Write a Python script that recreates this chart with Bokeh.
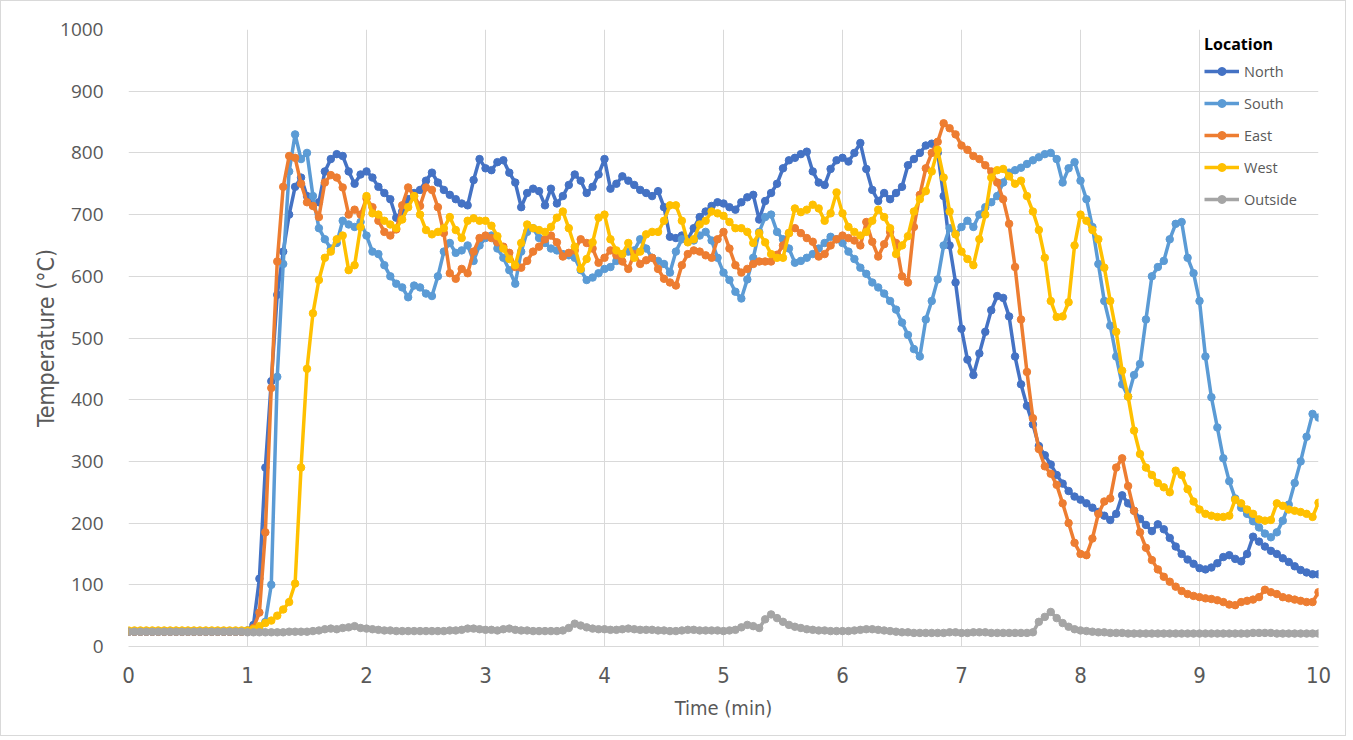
from bokeh.plotting import figure
from bokeh.models import Range1d, Legend, LegendItem, FixedTicker
from bokeh.embed import file_html
from bokeh.resources import INLINE

# sampling grid (min), 3-second steps
time_min = [round(i * 0.05, 2) for i in range(201)]

north = [
    24, 24, 24, 24, 24, 24, 24, 24, 24, 24, 24, 24, 24, 24, 24, 24, 24, 24, 24, 24,
    26, 35, 110, 290, 430, 570, 640, 700, 745, 760, 730, 715, 720, 770, 790, 798, 795, 770, 750, 765,
    770, 760, 745, 735, 725, 695, 705, 725, 735, 740, 755, 768, 752, 740, 732, 725, 718, 715, 756, 790,
    775, 772, 785, 788, 768, 752, 712, 735, 742, 738, 715, 742, 718, 730, 748, 765, 755, 735, 745, 765,
    790, 742, 750, 762, 755, 748, 740, 735, 730, 738, 712, 664, 662, 666, 660, 678, 696, 705, 714, 720,
    718, 712, 708, 720, 728, 732, 692, 722, 735, 750, 775, 788, 792, 798, 802, 770, 752, 748, 774, 788,
    792, 786, 800, 816, 774, 740, 722, 735, 725, 735, 745, 780, 790, 800, 812, 815, 800, 730, 650, 590,
    515, 465, 440, 475, 510, 545, 568, 565, 535, 470, 425, 390, 360, 325, 310, 295, 278, 264, 252, 243,
    238, 232, 225, 218, 212, 205, 215, 245, 232, 220, 207, 197, 187, 198, 190, 176, 162, 150, 141, 134,
    127, 125, 128, 135, 145, 148, 142, 138, 150, 178, 170, 162, 155, 150, 143, 137, 130, 124, 120, 117,
    117,
]

south = [
    24, 24, 24, 24, 24, 24, 24, 24, 24, 24, 24, 24, 24, 24, 24, 24, 24, 24, 24, 24,
    24, 25, 28, 40, 100, 437, 620, 770, 830, 790, 800, 730, 678, 660, 645, 654, 690, 684, 680, 688,
    666, 640, 636, 618, 600, 588, 582, 566, 585, 582, 572, 568, 600, 640, 654, 638, 642, 650, 625, 650,
    662, 666, 645, 630, 610, 588, 640, 672, 678, 662, 654, 645, 642, 636, 634, 630, 610, 594, 598, 605,
    612, 615, 625, 636, 640, 642, 660, 645, 630, 625, 620, 606, 640, 660, 656, 658, 666, 672, 658, 630,
    606, 594, 575, 564, 595, 630, 672, 696, 700, 672, 660, 645, 622, 625, 630, 636, 645, 654, 664, 660,
    654, 640, 628, 614, 604, 590, 582, 572, 560, 546, 525, 505, 482, 470, 530, 560, 595, 650, 678, 668,
    680, 690, 680, 700, 712, 720, 730, 752, 768, 772, 776, 782, 788, 793, 798, 800, 790, 752, 775, 785,
    755, 725, 680, 620, 560, 520, 470, 425, 405, 440, 458, 530, 600, 615, 625, 660, 685, 688, 630, 605,
    560, 470, 404, 355, 305, 268, 240, 225, 215, 203, 193, 183, 177, 185, 204, 230, 265, 300, 340, 377,
    371,
]

east = [
    24, 24, 24, 24, 24, 24, 24, 24, 24, 24, 24, 24, 24, 24, 24, 24, 24, 24, 24, 24,
    24, 30, 55, 185, 419, 624, 745, 795, 792, 750, 720, 714, 696, 752, 764, 760, 744, 700, 708, 700,
    726, 712, 690, 672, 666, 676, 715, 744, 730, 714, 744, 740, 712, 670, 605, 596, 612, 605, 640, 662,
    666, 662, 655, 648, 638, 615, 614, 625, 640, 648, 660, 666, 655, 632, 638, 642, 660, 654, 645, 622,
    630, 642, 634, 624, 612, 636, 620, 626, 630, 612, 596, 590, 585, 618, 636, 642, 640, 634, 630, 660,
    672, 645, 618, 606, 612, 620, 624, 624, 624, 635, 650, 670, 678, 670, 662, 656, 632, 636, 650, 660,
    666, 662, 658, 650, 688, 656, 632, 652, 672, 654, 600, 590, 680, 732, 775, 800, 818, 848, 840, 830,
    812, 805, 795, 790, 780, 770, 752, 725, 685, 615, 530, 445, 370, 320, 292, 280, 262, 232, 200, 168,
    150, 148, 175, 215, 235, 240, 290, 305, 260, 220, 185, 160, 140, 125, 113, 105, 97, 90, 85, 82,
    80, 78, 77, 75, 72, 68, 67, 72, 74, 76, 80, 92, 88, 85, 80, 78, 76, 74, 72, 72,
    88,
]

west = [
    26, 26, 26, 26, 26, 26, 26, 26, 26, 26, 26, 26, 26, 26, 26, 26, 26, 26, 26, 26,
    26, 28, 33, 38, 42, 50, 60, 72, 102, 290, 450, 540, 594, 630, 640, 660, 666, 610, 618, 680,
    730, 702, 700, 690, 684, 678, 692, 712, 730, 700, 675, 668, 672, 678, 696, 675, 662, 690, 694, 690,
    690, 682, 665, 645, 628, 618, 654, 684, 678, 675, 672, 680, 695, 705, 678, 648, 612, 628, 655, 695,
    700, 660, 642, 636, 654, 630, 640, 668, 672, 672, 690, 715, 715, 690, 655, 660, 684, 690, 705, 702,
    698, 688, 678, 678, 672, 654, 670, 655, 636, 630, 630, 670, 710, 704, 708, 716, 710, 690, 702, 736,
    702, 680, 672, 666, 672, 690, 708, 696, 678, 636, 650, 665, 705, 725, 738, 770, 805, 760, 705, 668,
    640, 628, 618, 660, 700, 760, 772, 774, 762, 750, 755, 730, 705, 675, 630, 560, 534, 535, 558, 650,
    700, 690, 675, 660, 614, 560, 510, 447, 405, 350, 312, 290, 278, 265, 258, 250, 285, 278, 255, 235,
    222, 215, 212, 210, 210, 212, 238, 232, 222, 215, 206, 204, 205, 232, 228, 222, 220, 218, 215, 210,
    233,
]

outside = [
    24, 24, 24, 24, 24, 24, 24, 24, 24, 24, 24, 24, 24, 24, 24, 24, 24, 24, 24, 24,
    23, 23, 23, 23, 23, 23, 23, 24, 24, 24, 24, 25, 26, 28, 29, 28, 30, 31, 33, 30,
    29, 28, 27, 26, 26, 25, 25, 25, 25, 25, 25, 25, 25, 25, 26, 26, 27, 29, 29, 28,
    27, 27, 26, 28, 29, 27, 26, 26, 25, 25, 25, 25, 25, 26, 30, 37, 34, 31, 29, 28,
    28, 27, 27, 28, 29, 28, 27, 27, 27, 26, 26, 25, 25, 26, 27, 27, 26, 26, 26, 26,
    25, 26, 27, 31, 35, 33, 30, 44, 52, 46, 40, 35, 32, 30, 28, 27, 26, 26, 25, 25,
    25, 25, 26, 27, 28, 28, 27, 26, 25, 24, 23, 23, 22, 22, 22, 22, 22, 22, 23, 23,
    22, 22, 23, 23, 23, 22, 22, 22, 22, 22, 22, 22, 23, 40, 48, 56, 46, 38, 32, 28,
    26, 25, 24, 23, 23, 22, 22, 22, 21, 21, 21, 21, 21, 21, 21, 21, 21, 21, 21, 21,
    21, 21, 21, 21, 21, 21, 21, 21, 21, 22, 22, 22, 22, 21, 21, 21, 21, 21, 21, 21,
    21,
]

series_names = ["North", "South", "East", "West", "Outside"]
series_values = [north, south, east, west, outside]
series_colors = ["#4472C4", "#5B9BD5", "#ED7D31", "#FFC000", "#A5A5A5"]
x_ticks = list(range(0, 11))
y_ticks = list(range(0, 1001, 100))

TXT = "#595959"
GRID = "#D9D9D9"
COND = "DejaVu Sans Condensed, Roboto, sans-serif"

p = figure(width=1346, height=736, x_range=Range1d(0, 10), y_range=Range1d(0, 1000),
           output_backend="svg", toolbar_location=None,
           min_border_left=127, min_border_right=29, min_border_top=28, min_border_bottom=91)
p.outline_line_color = None
p.background_fill_color = "white"
p.border_fill_color = "white"
p.styles = {"border": "1px solid #D9D9D9"}

p.xgrid.ticker = FixedTicker(ticks=x_ticks)
p.ygrid.ticker = FixedTicker(ticks=y_ticks)
p.xgrid.grid_line_color = GRID
p.ygrid.grid_line_color = GRID

p.xaxis.ticker = FixedTicker(ticks=x_ticks)
p.yaxis.ticker = FixedTicker(ticks=y_ticks)
for ax in (p.xaxis[0], p.yaxis[0]):
    ax.major_tick_line_color = None
    ax.minor_tick_line_color = None
    ax.major_label_text_color = TXT
    ax.axis_label_text_color = TXT
    ax.axis_label_text_font_style = "normal"
p.yaxis.axis_line_color = None
p.xaxis.axis_line_color = GRID

p.yaxis.major_label_text_font = "Open Sans"
p.yaxis.major_label_text_font_size = "19px"
p.yaxis.major_label_standoff = 19
p.xaxis.major_label_text_font = COND
p.xaxis.major_label_text_font_size = "22px"
p.xaxis.major_label_standoff = 14

p.xaxis.axis_label = "Time (min)"
p.xaxis.axis_label_text_font = COND
p.xaxis.axis_label_text_font_size = "20px"
p.xaxis.axis_label_standoff = 10
p.yaxis.axis_label = "Temperature (°C)"
p.yaxis.axis_label_text_font = COND
p.yaxis.axis_label_text_font_size = "23px"
p.yaxis.axis_label_standoff = -2

items = []
for name, vals, col in zip(series_names, series_values, series_colors):
    r1 = p.line(time_min, vals, line_color=col, line_width=3.5)
    r2 = p.scatter(time_min, vals, marker="circle", size=7.5, fill_color=col, line_color=col)
    items.append(LegendItem(label=name, renderers=[r1, r2]))

legend = Legend(items=items, location="top_right", margin=4, padding=15,
                title="Location", title_text_font="Open Sans", title_text_font_style="bold",
                title_text_font_size="16px", title_text_color="black", title_standoff=6,
                label_text_font="Open Sans", label_text_font_size="14.5px", label_text_color=TXT,
                label_width=70, label_height=20, glyph_width=35, glyph_height=20,
                label_standoff=5, spacing=12,
                background_fill_alpha=0, border_line_color=None)
p.add_layout(legend)

open("out.html", "w").write(file_html(p, INLINE))
